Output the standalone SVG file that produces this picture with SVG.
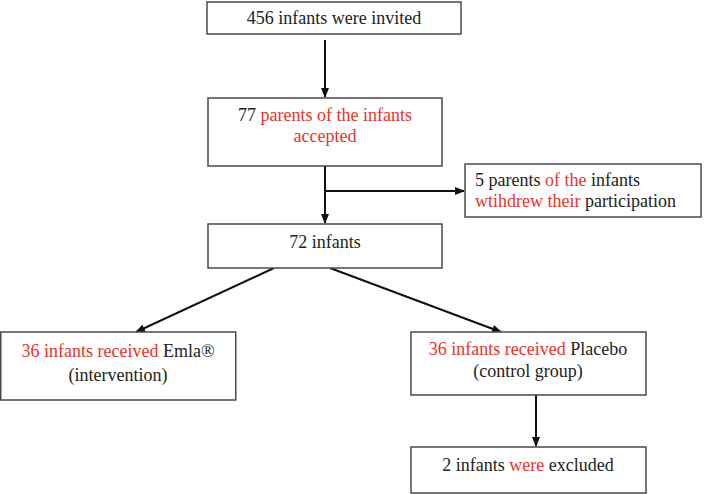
<svg xmlns="http://www.w3.org/2000/svg" width="709" height="494" viewBox="0 0 709 494">
<style>
.box{fill:#fff;stroke:#4a4a4a;stroke-width:1.5}
.t{font-family:"Liberation Serif","Times New Roman",serif;font-size:18px;fill:#222}
.c{text-anchor:middle}
.r{fill:#e8342c}
.ln{stroke:#111;stroke-width:2;fill:none}
</style>
<defs>
<marker id="ah" markerWidth="10" markerHeight="10" refX="9" refY="5" orient="auto" markerUnits="userSpaceOnUse">
<path d="M0,1 L10,5 L0,9 Z" fill="#111"/>
</marker>
</defs>
<rect width="709" height="494" fill="#fff"/>
<g id="connectors">
<line class="ln" x1="325" y1="40" x2="325" y2="97" marker-end="url(#ah)"/>
<line class="ln" x1="325" y1="166" x2="325" y2="223" marker-end="url(#ah)"/>
<line class="ln" x1="325" y1="191" x2="464" y2="191" marker-end="url(#ah)"/>
<line class="ln" x1="274" y1="268" x2="136" y2="332" marker-end="url(#ah)"/>
<line class="ln" x1="330" y1="268" x2="501" y2="332" marker-end="url(#ah)"/>
<line class="ln" x1="536" y1="395" x2="536" y2="446" marker-end="url(#ah)"/>
</g>
<g id="n1">
<rect class="box" x="207" y="2" width="254" height="32"/>
<text class="t c" x="334" y="24">456 infants were invited</text>
</g>
<g id="n2">
<rect class="box" x="208" y="98" width="234" height="68"/>
<text class="t c" x="325" y="121">77 <tspan class="r">parents of the infants</tspan></text>
<text class="t c r" x="325" y="142">accepted</text>
</g>
<g id="n3">
<rect class="box" x="465" y="164" width="236" height="53"/>
<text class="t" x="475" y="186">5 parents <tspan class="r">of the</tspan> infants</text>
<text class="t" x="475" y="207"><tspan class="r">wtihdrew their</tspan> participation</text>
</g>
<g id="n4">
<rect class="box" x="208" y="224" width="234" height="44"/>
<text class="t c" x="325" y="248">72 infants</text>
</g>
<g id="n5">
<rect class="box" x="0.75" y="332" width="235" height="68"/>
<text class="t c" x="118" y="357"><tspan class="r">36 infants received</tspan> Emla®</text>
<text class="t c" x="118" y="381">(intervention)</text>
</g>
<g id="n6">
<rect class="box" x="411" y="332" width="235" height="63"/>
<text class="t c" x="528" y="355"><tspan class="r">36 infants received</tspan> Placebo</text>
<text class="t c" x="528" y="377">(control group)</text>
</g>
<g id="n7">
<rect class="box" x="411" y="447" width="235" height="46"/>
<text class="t c" x="528" y="471">2 infants <tspan class="r">were</tspan> excluded</text>
</g>
</svg>
